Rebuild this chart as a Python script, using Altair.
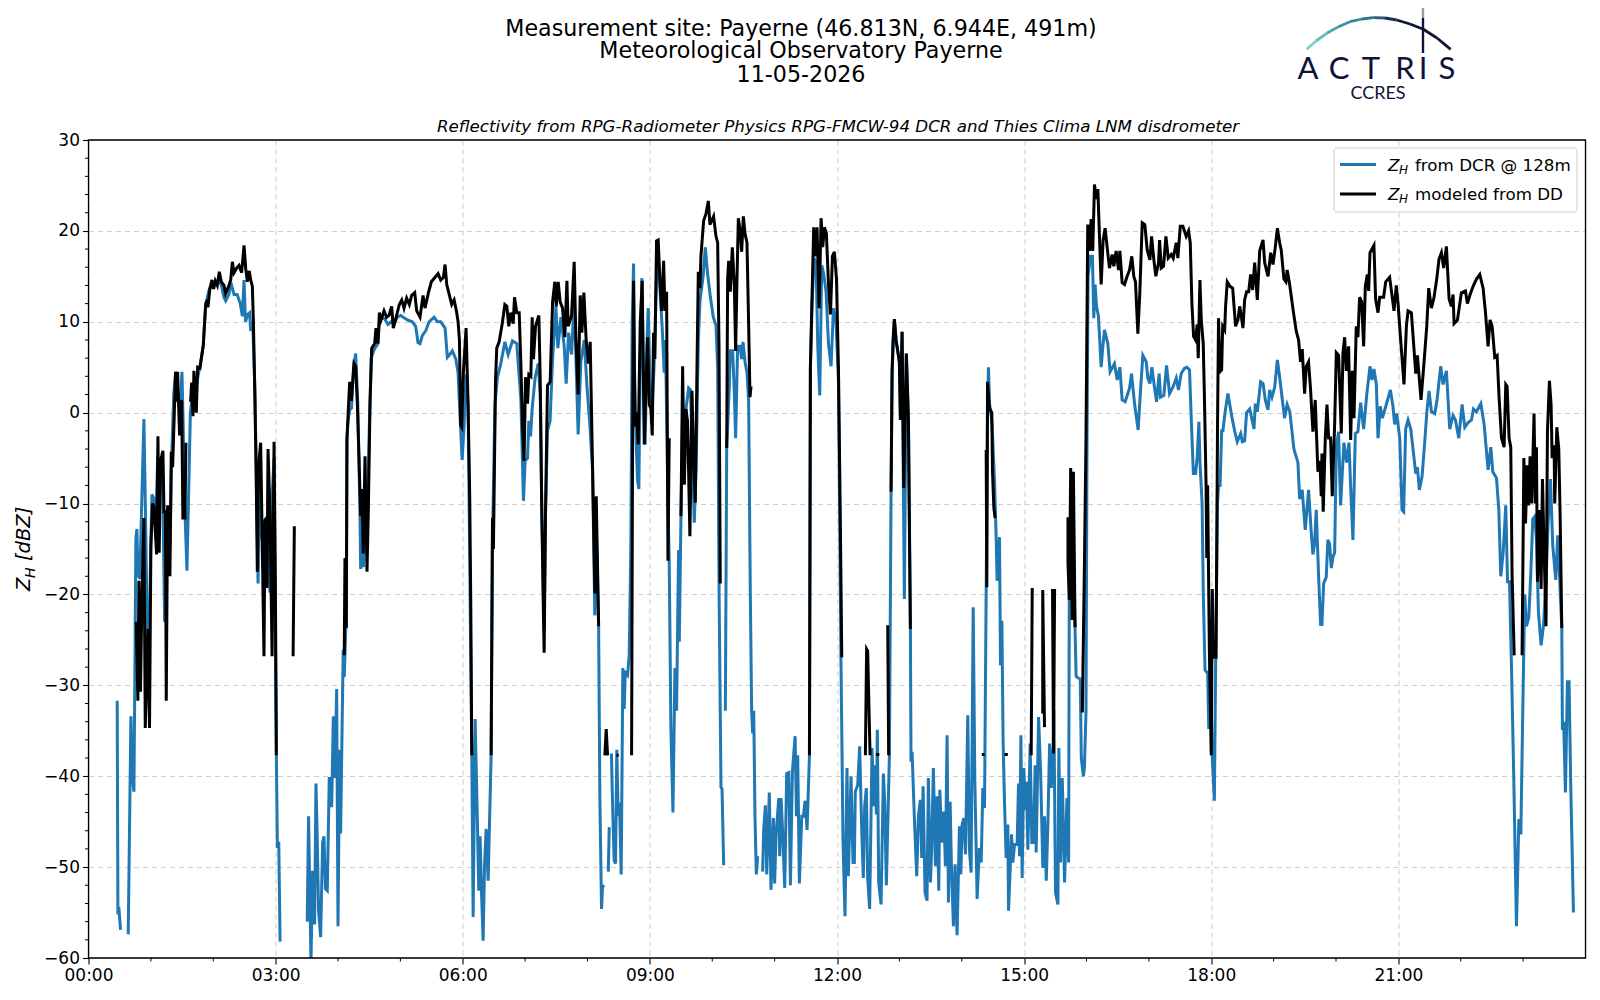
import altair as alt
import pandas as pd

# (minute of the day, reflectivity in dBZ); None marks a gap in the record
blue_points = [
(27.6,-31.7),(28.3,-55.2),(29.2,-54.4),(30.8,-56.9),(33,None),(38.2,-57.4),(40.8,-33.4),(42,-39.7),(43.7,-41.7),(45.6,-13.8),(46.6,-12.8),(47.5,-17.8),(49.4,-18.3),(51,-10.8),(53.3,-0.7),(54.9,-11.8),(56.5,-23.8),
(58.5,-24),(60,-14),(61,-9),(63,-9.5),(65,-12),(66.5,-5),(68,-10),(69,-7),(71,-5),(73.2,-23),(75,-12),(76.1,-11),(78.3,-15),(80,-5),(82,2),(83.8,4.5),(86,2),(88,0),(89.9,4.5),(91,-1),(92.5,-10),(94.7,-17.4),(96.5,-8),(98,0),(100,2),(103.7,3),(107,5),
(110.4,7.4),(112.7,11.9),(116,13.5),(118.8,14),(122,14.2),(125.8,14.5),(127.8,14),(130.3,12.7),(132,12.3),(135,13),(137,14.3),(140,13),(143,13),(146,12),(148,10.6),(149.6,14.6),(151,10),(153,10.8),(155,11),(156,9),(158,10),(160,2.7),(163.1,-18.8),
(165,-8),(167,-14),(169,-12),(172,-14),(174.6,-19.8),(176.6,-9.4),(178.5,-5),(180.7,-37.7),(181.7,-47.9),(183,-47.2),(184.3,-58.2),(190,None),
(210.4,-56),(211.7,-44.4),(214,-60.5),(215.6,-50.4),(217.5,-56.3),(218.8,-40.8),(220,-46.6),(221.3,-54.8),(223.3,-57.7),(225.2,-47.3),(226.5,-46.6),(228,-52.4),(229.7,-52.6),(231.6,-40.1),(233.9,-43.4),(235.5,-33.4),(237,-40.2),(238.7,-30.4),(240,-56.5),(241.6,-37.1),(242.5,-46.3),(245,-26.1),(246,-29.1),(248,-22),(248.6,-3),(249.6,-1),(251.2,0.3),(253,0.5),(255,5),(257,6.5),(259,1),(261,-10),(261.8,-17.2),(263,-13),(264.5,-17),(266,-8),(268,-14),(270,-2),(272,6),(275,7),(278,7.5),(280,10),(282,10.5),(285,10.3),(288,9.7),(291,10),(294,9.8),(297,10.5),
(300.3,10.7),(306.7,10.2),(311.5,10),(314.7,9.5),(317,7.7),(318.9,7.6),(321.2,8.5),(324.4,9),(327.6,10),(332.4,10.5),(335.6,10),(338.8,10),(343,9.3),(345.2,6.1),(347.5,6.4),(350,6.8),(353.3,5.9),(355.5,4.4),(357.4,-0.4),(359.4,-5.2),(361.3,-1.4),(363.2,4.2),(365.1,1),(368.7,-37.7),(370,-55.5),(371.9,-33.7),(374.1,-45.1),(375.4,-52.6),(376.7,-46.6),(378,-52.6),(379.6,-58.1),(380.9,-50),(382.5,-45.8),(384.4,-51.5),(387.3,-37.7),(388.6,-14),(391,1),(393.4,3.9),(396.6,5.4),(400.5,7.8),(403.7,6.4),(407.8,7.9),(412,7.6),(415.9,1.5),(418.4,-9.7),(420,-5.3),(422.3,-5),(423.6,-0.9),(425.2,-2.6),(426.8,0.5),(429.7,3.9),(432.6,5.4),(434.5,2),(436,-10.6),(438.3,-24),(439.6,-11.1),(441.5,-2),(444,-0.9),(446.4,5.9),(449.6,11.7),(451.5,7.1),(454.4,10.5),(457.6,7.3),(459.5,3.2),(461.8,8.8),(464.7,6.4),(467.2,12.7),(471,-2.4),(473.6,5.6),(476.9,8),(479.4,3),(482,-0.9),(484.9,-6.3),(487,-22.3),(489,-15),(490.7,-23.5),(491.9,-42.4),(493.5,-54.6),(494.4,-52.2),(496,-52),(498,None),(500,-50.5),(500.9,-45.6),(502,None),
(503,-37.5),(504.4,-44.4),(505.7,-49.3),(507,-49.6),(508.2,-37.1),(509.5,-44.4),(510.8,-42.9),(512.4,-50.8),(514,-28.1),(515.3,-32.6),(516.3,-28.6),(518.5,-28.9),(520.1,-26.7),(521.7,-14.8),(523,9.8),(524.3,16.4),(525.2,4.9),(526.9,-3.5),(528.1,-7.4),(529.4,-8.4),(530.7,4.9),(532.3,14.8),(533.6,4.9),(535.5,-3.5),(537.1,7.3),(538.4,11.5),(540.3,2.4),(541.9,0),(544,5),(546.4,15),(548,17),(550,13),(552,9),(553.8,4.4),(555,8),(557.4,-10),(558.6,-16.3),(560.2,-34.5),(562.2,-44),(564.1,-28.1),(565.7,-32.8),(567.6,-15.1),(568.3,-25.2),(569.9,-11.4),(571.5,0),(573.1,-7.9),(574.7,0.4),(577.3,2.7),(579,2.5),(580.5,-3),(582.7,-12.1),(584.5,-6),(586.6,8),(588.2,12.3),(591.4,15.2),(593.3,18.2),(595.6,15.2),(598.1,12.8),(601,10.5),(603.6,9.6),(605.2,4.9),(606.5,-18.8),(608.4,-41.2),(609.4,-41.4),(611,-49.8),(611.8,None),
(612.6,-32.8),(613.9,-4),(616.4,2.9),(617.4,6.8),(619.6,6.8),(621.2,2.4),(622.5,-2.8),(624.4,7.3),(626.7,7.3),(628.3,5.9),(629.6,7.8),(631.5,5.6),(633.4,4.4),(635,1.4),(636.6,-19.8),(637.9,-32.8),(638.9,-35.3),(639.9,-32.8),(641.1,-44.4),(642.4,-50.8),(643.7,-48.8),(646,None),
(648.5,-50.5),(649.5,-45.9),(651.1,-43.2),(652.4,-50.8),(654.9,-41.8),(656.5,-52.5),(658.8,-44.6),(660,-51.8),(661.4,-46.4),(664,-42.4),(664.9,-48.8),(666.2,-42.4),(667.8,-46.4),(669.7,-52.3),(671.6,-39.7),(673.6,-39.6),(675.2,-52),(677.1,-39.5),(679.7,-35.6),(681,-44.4),(682.2,-37.7),(683.8,-51.8),(686.1,-44.4),(687.7,-44.4),(689.3,-42.7),(691.2,-45.9),(693.5,-37.7),(694.4,4.9),(696,12),(698,17),(699.9,16.5),(701.5,7.3),(703.4,1.9),(705.3,16.2),(707.3,15.2),(709.5,13.3),(711.8,7.6),(714.3,5.1),(716.6,11.5),(719.1,9.8),(721.4,3.4),(723.8,-26.9),(725.8,-47.3),(727.7,-55.4),(729.6,-39.1),(730.9,-51),(733.5,-40),(735.4,-49.5),(736.7,-49.5),(737.6,-41.7),(739.9,-41),(741.8,-36.7),(743.7,-45.7),(745.3,-51.2),(746.6,-43.3),(748.2,-41.3),(749.5,-51.2),(751.4,-54.6),(753.7,-36.9),(755.3,-43.3),(756.6,-38.8),(757.9,-44.2),(758.8,-34.9),(760.1,-51.7),(762.4,-54.1),(764.6,-39.7),(765.9,-42.8),(767.5,-52),(770.4,-37.7),(772,-8.7),(773,4.5),(775.2,10.3),(776.8,8),(780,5.6),(781,-0.8),(782.6,8.9),(784.8,-20.5),(786.7,6.5),(788.7,-0.8),(790.6,-23.8),
(791.2,-38.4),(792.2,-37.3),(794.5,-44.8),(796.7,-51),(798.3,-44.4),(800.2,-42.6),(801.5,-49),(802.8,-41.1),(804.7,-52.8),(806.6,-53.7),(807.9,-40.2),(809.9,-51.7),(811.1,-48),(812.7,-39.1),(814.7,-49.9),(816.3,-42.2),(817.9,-52.6),(818.9,-41.5),(820.8,-47.3),(822.7,-43.9),(824.3,-49.9),(825.9,-35.5),(827.2,-53.9),(828.8,-42.8),(830.1,-49.9),(832,-56.5),(833.6,-49.7),(835.5,-57.5),(837.8,-45.5),(839.1,-50.8),(840.4,-45.3),(842,-44.6),(843.6,-48.6),(845.8,-33.3),(847.4,-48.1),(849,-50.6),(851,-21.4),(852.6,-40.6),(854.8,-53.5),(857,-47.9),(858.7,-49.5),(860.3,-41.3),(861.9,-43.5),(863.5,-19.4),(864.8,0),(865.7,5),(866.7,1),(869,-1),(871.5,-7.4),(873.1,-13.8),(874,-18.5),(876.3,-13.7),(877.3,-27.8),(878.6,-22.9),(879.8,-36.2),(881.1,-42.8),(882.7,-49),(884.3,-45.3),(885,-54.8),(887.9,-46.4),(889.1,-49.5),(890.8,-47.5),(893.3,-47.5),(894.6,-40.8),(895.6,-48.8),(896.9,-35.5),(898.1,-51.2),(899.7,-39.1),(901,-43.7),(902.3,-40.6),(903.6,-48.1),(905.8,-36.4),(907.4,-47.3),(909,-47.3),(910.6,-38.8),(911.6,-48.4),(913.9,-33.5),(915.8,-39.3),(918,-50.1),(919.6,-44.4),(921.3,-51.5),(922.9,-45),(924.5,-36.4),(926.1,-41.3),(928,-36.4),(928.6,-32.7),(930.2,-52.8),(932.5,-54.1),(933.4,-36.9),(935,-49.5),(936.7,-40.2),(938.9,-51.7),(941.2,-42.4),(942.8,-49.5),(943.5,-16.5),(945,-10),(947,-15),(949,-23.8),(950,-29),(952,-29.2),(954,-29.3),(955,-38),(957,-40),(958,-39),(959.5,-33),(960.5,-3),(961.5,15),(963.8,17.2),(965.7,17.2),(967,10.4),(968.3,14.1),(969.6,11.7),(971.5,10.6),(974.1,5),(975.5,7),(977.3,9.1),(980.5,7.6),(982.7,4.5),(986.9,5.4),(989.5,3.6),(992.1,5),(994.3,1.4),(997.2,1.2),(1001.4,2.7),(1003.3,4.3),(1006.2,1),(1009.7,-1.9),(1012,2.5),(1014.2,6.3),(1017.4,5.6),(1019,3.8),(1021,3.2),(1022.9,5),(1025.4,2.8),(1027.4,1.2),(1029.9,4.3),(1031.2,1.7),(1034.4,1.9),(1037,5.2),(1039.9,2.1),(1043.1,2.8),(1046.3,3.8),(1048.5,2.5),(1051.1,4.3),(1054.3,4.9),(1056.6,5),(1059.1,4.7),(1060.8,-0.8),(1062.8,-6.7),(1064.9,-6.7),(1066.5,-4.9),(1068.1,-1),(1069.2,-5.6),(1071.2,-10),(1072.4,-20.3),(1074,-28.3),(1076.6,-28.7),(1077.6,-34.8),(1079,-27),(1081,-38),(1083,-42.7),(1084.3,-26.9),(1086,-10),(1087,-8),(1088.5,-8),(1090,-2),(1091.2,-2),(1093.5,0.2),(1096,2.1),(1099.9,-0.5),(1102.5,-2),(1105,-3.2),(1108.3,-2.3),(1109.9,-3.2),(1112.1,-3.1),(1114,0),(1117,0.4),(1121.1,-1.8),(1122.4,1),(1124.3,0.1),(1127.5,3.4),(1129.8,3.2),(1132,1.4),(1134.6,0.3),(1136.2,2.5),(1138.4,1.7),(1141,2.8),(1143.6,5.8),(1145.8,3.9),(1148.1,1.7),(1150.5,-0.6),(1153,0.9),(1155.6,0.1),(1159.5,-4),(1163.4,-5.5),(1165,-9.5),(1167.5,-8.5),(1170.4,-12.9),(1173.6,-8.5),(1176.2,-13.2),(1177.8,-15.6),(1179.4,-14.4),(1181,-10.7),(1183.3,-18.1),(1185.2,-23.3),(1186.5,-23.3),(1188.1,-18.8),(1190.6,-18.1),(1192.2,-14),(1193.8,-14.4),(1195.5,-17.1),(1197,-15.9),(1198.7,-15.4),(1200.3,-3.8),(1202.5,-2.1),(1204.4,-10.2),(1207.6,-3.3),(1210.2,-5.5),(1212.5,-3.3),(1214.1,-8.2),(1216.3,-14),(1218.6,-2.3),(1221.1,-2.1),(1223.7,1.1),(1226.6,-1.8),(1229.5,1.9),(1232.7,5.1),(1234.6,3.6),(1236.5,4.8),(1238.8,3.1),(1240.4,-2.8),(1242.6,0.7),(1244.6,-0.6),(1248.4,0.9),(1252.3,2.5),(1254.8,0.7),(1256.4,-1.3),(1258.4,-0.1),(1261.3,-2.8),(1263.5,-10.7),(1265.1,-10.9),(1267,-1.8),(1269.3,-0.8),(1271.9,-1.8),(1274.1,-4),(1276.7,-6.7),(1278.3,-6),(1280.2,-8.5),(1282.8,-7),(1285.3,-3.3),(1287.6,0.4),(1289.5,2.4),(1291.8,0.1),(1295,-0.1),(1297.2,1.4),(1300.7,5.1),(1303,3.1),(1306.2,4.6),(1309.4,-1.8),(1312.6,-0.3),(1314.9,-0.8),(1318.1,-2.8),(1321.3,0.9),(1323.9,-1.6),(1327.1,-1.1),(1330.3,-0.8),(1332.2,0.4),(1335.1,0.1),(1339.3,1),(1342.5,-1.3),(1344.4,-3.8),(1346.3,-6.3),(1348.9,-3.8),(1350.8,-6.5),(1354.4,-7.2),(1356.6,-10.7),(1358.5,-18),(1360.8,-15.4),(1363.3,-10.2),(1365,-18.6),(1366.9,-18.6),(1368.8,-27.9),(1371,-40.2),(1373.6,-56.5),(1375.9,-44.7),(1377.8,-46.4),(1380,-30.4),(1381.6,-20),(1383.2,-23.5),(1385.5,-22.5),(1387.4,-17.6),(1389.3,-11.7),(1391.3,-11.4),(1392.9,-14.1),(1394.7,-21.9),(1397.3,-25.6),(1399.5,-23.5),(1402,-18.6),(1404.1,-12),(1406.3,-7.3),(1408.5,-14.6),(1411.4,-18.4),(1413.3,-13.5),(1415.6,-19.4),(1417.2,-23.7),(1417.8,-34.9),(1419,-34),(1420.7,-41.8),(1422.6,-29.6),(1424.2,-29.6),(1425.8,-41),(1428.4,-55),
]

black_points = [
(45.9,-23),(47.5,-31.7),(48.5,-18.5),(50,-30.7),(51.4,-20.3),(53.3,-11.6),(54.6,-34.7),(57.1,-23.8),(58.7,-34.7),(60,-14.8),(61.6,-10),(62.9,-10.3),(65.5,-15.6),(66.8,-2.6),(68,-15.4),(69.3,-5.3),(71.6,-4.2),(72.6,-10.9),(74,-10.9),(74.8,-31.7),(76.1,-10.2),(78.3,-18),(79.6,-4.3),(80.9,-6),(83.8,4.5),(84.4,1.2),(85.7,4.5),(87.6,-2.5),(89.6,1.4),(90.8,-11.6),(92.8,-11.6),(93.7,-3.3),(95,None),
(98.2,1.2),(99.2,3.3),(100.5,-0.4),(101.4,4.6),(103.7,0),(105,5),(107.2,4.9),(108.5,5.9),(110.4,7.4),(112.7,11.9),(114.3,12.4),(114.9,11.6),(116.8,13.7),(118.8,14.6),(120.4,13.6),(122,14.5),(123.9,14),(125.8,15.5),(127.8,14.4),(130.3,14),(131.9,13.1),(135.1,14),(136.8,14.6),(138.4,16.6),(140,15.4),(142.5,15.9),(144.8,16.2),(147.3,15.4),(149.6,18.4),(151.2,15.9),(152.8,14.4),(154.7,15.6),(156,14.6),(157.6,13.9),(158.6,10.1),(159.9,2.7),(161.2,-5.8),(162.4,-17.5),(163.5,-6),(165.6,-3.3),(167.2,-14.8),(168.8,-26.8),(169.8,-11.8),(171.1,-11.6),(171.7,-19.3),(172.7,-4),(174.6,-11),(176.6,-26.8),(178.5,-3.2),(179.8,-19.8),(180.7,-37.7),(190,None),
(196.8,-26.8),(198,-12.5),(205,None),
(246,-26.7),(246.7,-16),(248,-23.7),(248.6,-2.9),(249.6,-0.5),(251.2,3.4),(252.8,1.3),(255.4,5.4),(257,5.1),(258.6,1),(260,-4.3),(261.8,-11.4),(263,-8.4),(264.3,-15.5),(266,-4.8),(267.9,-17.5),(269.2,-10.6),(270.8,1),(272.4,7.1),(275.3,7.6),(276.5,9.3),(278.5,7.6),(279.8,11),(281.4,10.2),(284.3,11.2),(286.8,10.5),(289,10.7),(291.6,11.7),(293.2,9.3),(296.4,10.7),(299,11.9),(301.3,12.4),(303.5,11.5),(306,12.6),(308.6,11.9),(310.9,12.9),(313.8,13.2),(315.7,11.2),(318.9,10.5),(321.8,12.9),(323.7,11.5),(327,13.2),(329.8,14.4),(333.4,14.9),(336.3,15.3),(338.8,14.6),(341.4,14.9),(343,16.3),(344.6,14.1),(347.2,12.9),(349.4,11.9),(351.7,12.4),(353.9,11.2),(355.5,10),(356.8,8),(358,-1.4),(359,-1.6),(360.6,4.4),(363.2,9.3),(365.1,1),(366.7,-9.2),(367.7,-20.8),(368.7,-37.7),(375,None),
(387.3,-37.7),(388.6,-11.6),(389.5,-15),(391.5,3.4),(392.7,7.1),(395,7.8),(398,9.8),(400.5,11.9),(402.4,11.7),(404.3,9.5),(406.2,11),(408.5,9.8),(409.8,12.7),(412,11),(414.3,11),(415.9,5.4),(417.5,-1.4),(419,-5.3),(420.4,3.9),(422.3,1),(423.6,4.2),(425.5,4),(426.8,10.5),(428,5.9),(430,9.5),(433.2,10.7),(434.5,3.9),(436,-10.6),(437.4,-20.8),(438.3,-26.4),(439.6,-11.1),(441.5,3),(444.1,3.4),(446.4,12.2),(448.6,14.4),(449.9,11.7),(451.8,14.4),(453.7,12.2),(456,11.5),(458.2,8.3),(460.2,14.5),(461.4,9.5),(464.7,10.7),(467.2,16.6),(468.8,8.3),(471,2),(473,12.9),(474.6,8.8),(476.5,13.2),(478.8,7.8),(481,5.4),(482.6,7.8),(484.9,-6.3),(487.1,-19.9),(488.4,-9.2),(490.7,-23.5),(493,None),
(496.7,-37.7),(498,-34.8),(499.3,-37.7),(503,None),(507.8,-37.7),(510,-37.7),(515,None),
(522.4,-37.7),(523.3,-5),(524.3,14.5),(525.6,-1.5),(527.2,0),(528.8,-3.5),(530.7,9.8),(532.6,14.5),(534.6,-3.5),(536.2,2.4),(537.8,8.3),(539.4,0.9),(541,0.4),(542.3,-2.5),(543.5,8.8),(544.8,5.9),(546.4,18.9),(548,19),(549.6,14.7),(551.3,11.2),(553.2,16.7),(554.5,11.2),(556.1,13.3),(557.4,-16.3),(558.6,-2.8),(560,None),
(569.9,-11.4),(571.5,5.1),(573.1,-7.9),(574.7,0.4),(576.3,-1),(578.5,-13.6),(580.5,2.4),(582.1,-5),(583.7,-9.9),(585.3,4.9),(586.6,15.5),(588.2,13.7),(589.1,17.2),(591.7,21.1),(594,21.9),(596.2,23.3),(597.8,20.7),(599.4,21.1),(601.3,21.6),(603.6,19.4),(605.2,18.7),(606.5,7.3),(607.7,-18.8),(610,None),
(613.9,-3.9),(614.8,14.7),(615.8,16.7),(617.4,13.3),(619.3,18.2),(621.2,14.2),(622.5,6.8),(623.8,14.7),(625.1,21.4),(626.7,20.1),(628.3,17.7),(629.9,21.6),(631.5,19.7),(633.4,18.7),(635,9.8),(636.3,1.7),(637.3,2.9),(645,None),
(693.5,-37.7),(694.4,4.9),(695.7,11.3),(697.6,20.4),(699.2,17.2),(700.8,20.4),(702.8,11.5),(704.7,21.4),(706.3,18.2),(707.9,20.4),(709.8,19.7),(711.8,14.2),(713.7,10.8),(715.6,17.2),(717.5,17.7),(719.5,14.7),(721.4,4.9),(723,-9.9),(724.6,-26.9),(730,None),
(747.3,-37.7),(748.5,-26),(749.5,-26.2),(751.8,-37.7),(754,None),(757.5,-37.6),(760.7,-37.6),(764,None),(768.8,-23.4),(769.7,-37.7),(770.8,None),
(772,-8.7),(773,4.5),(773.9,8),(775.2,10.3),(776.8,8),(780,5.6),(781,-0.8),(782.6,8.9),(784.2,-8.3),(785.5,-0.8),(786.7,6.5),(788.7,-0.8),(790.6,-23.8),(795,None),
(859.3,-37.6),(861.9,-37.6),(863,None),(864.1,-19.2),(863.5,-4.1),(864.8,3.4),(866.7,0.5),(868.9,0),(869.6,-6.5),(870.9,-10.5),(872.1,-11.6),(876,None),
(881.2,-37.6),(884.3,-37.6),(890,None),(906.8,-37.7),(907.8,-19.3),(912,None),(917.9,-33.1),(917.9,-19.5),(919.6,-34.6),(922,None),(927.3,-19.4),(928.3,-37.5),(929.3,-19.4),(935,None),
(942.2,-11.5),(942.2,-16.6),(943.5,-20.6),(944.8,-6.1),(946.1,-22.8),(947.4,-6.5),(949,-23.6),(952,None),
(956,-33),(957.9,-17.7),(959.5,-3),(961.2,20.7),(962.8,17.8),(964.5,21.3),(966,17.8),(967.7,25.1),(969.3,23.5),(970.9,24.6),(972.5,19.4),(974.1,14.1),(976,19),(977.9,20.3),(979.2,18.9),(982.1,15.9),(984.7,17.4),(986.3,16.1),(988.5,17.8),(990.8,15.7),(992.1,17.8),(994.3,14.3),(996.6,14.1),(999.1,15),(1001.4,15.7),(1003.6,17.2),(1005.5,15),(1007.1,14.4),(1009.4,8.7),(1011.3,13.2),(1013.6,20.9),(1016.1,20.7),(1018.4,17.9),(1021,16.8),(1022.6,19.4),(1024.8,16.8),(1026.7,15),(1029.3,16.5),(1030.3,19),(1031.9,15.9),(1034.1,16.1),(1036.4,19.4),(1038.6,17),(1041.5,17.4),(1043.4,17),(1046.3,18.7),(1047.9,17),(1050.2,20.5),(1052.7,20.5),(1055.9,19.4),(1058.2,20),(1059.8,18.7),(1061.4,12),(1063,8.4),(1064.9,8),(1066.5,9.7),(1067.5,6),(1069.1,14.6),(1070.4,10.2),(1072.3,7.6),(1073.4,1.9),(1075,-7.8),(1075.7,-16),(1076.5,-8),(1078.2,-26.3),(1080,-37.7),(1081,-19.4),(1082,-26.9),(1084.6,-26.9),(1086,-1.9),(1087,10.4),(1088.4,4.5),(1090,4.7),(1091,9.5),(1092.9,9.1),(1093.8,11.7),(1095.4,14.4),(1098,13.9),(1100.6,13.7),(1103.4,9.5),(1105.7,10.2),(1107.3,11.7),(1108.9,10.6),(1110.5,9.3),(1112.1,12.4),(1114,13.3),(1116,13.3),(1117.9,15.2),(1119.8,13.5),(1121.8,16.5),(1124.3,12.4),(1126.6,17.8),(1129.8,19),(1131.4,16.5),(1134.6,15),(1137.2,17.6),(1139.4,16.3),(1141.7,18.3),(1143.6,20.3),(1145.8,18.7),(1147.3,17.9),(1149.9,14.7),(1151.8,14.4),(1153,15.7),(1155.3,14.2),(1158.5,11.5),(1161.7,9),(1164,8),(1165.9,5.6),(1167.5,7),(1169.8,2.1),(1171.4,5.1),(1173.6,5.6),(1175.5,2.6),(1177.8,-2.1),(1180,1.4),(1182.6,-6.5),(1184.5,-5.3),(1185.8,-9.2),(1186.5,-4.5),(1187.7,-10.9),(1189.7,-2.8),(1191.3,0.9),(1192.9,-2.8),(1194.8,-2.8),(1196.4,-9.2),(1198.7,-1.3),(1200.3,6.6),(1202.5,6.3),(1205.1,-2.3),(1206.7,6.6),(1208.3,8.3),(1209.9,4.6),(1212.1,7.3),(1214.1,-3),(1215.7,4.6),(1217.3,-0.6),(1219.5,9.5),(1221.1,8.3),(1222.7,12.7),(1224.7,12.2),(1226.6,7.3),(1228.2,13.9),(1230.1,15.2),(1231.4,13.4),(1232.7,17.6),(1236.5,18.4),(1238.1,12.5),(1240.4,11),(1242,12.7),(1245.8,12.7),(1247.8,14.4),(1251.6,14.9),(1255.8,11.2),(1258,14),(1259.7,12),(1262.2,8),(1265.4,3.1),(1267.7,9.5),(1269.3,11.2),(1272.5,11),(1274.7,7.5),(1276.7,4.3),(1278.3,6.3),(1281.8,1.4),(1284.7,5.6),(1287.3,9.5),(1289.2,13.7),(1291.8,11.5),(1294.3,12.7),(1296.9,14.7),(1299.1,16.9),(1301.4,17.6),(1303.6,15.9),(1306.2,18.3),(1308.8,12.5),(1311,11.7),(1312.6,13),(1313.6,9.8),(1316.8,10.2),(1320.6,13.2),(1324.5,13.4),(1326.4,12),(1329,13),(1331.9,13.9),(1335.1,14.7),(1338.3,15.2),(1341.5,13.7),(1343.8,11),(1346.3,7.3),(1348.2,10.2),(1350.2,9.5),(1352.7,6.1),(1355,6.3),(1356.9,1.6),(1359.2,-2.8),(1361.7,-3.8),(1363.3,3.1),(1364.6,2.9),(1366.5,-2.8),(1368.1,-3.8),(1369.4,-18),(1371.4,-26.7),(1375,None),
(1379,-26.7),(1380.7,-5),(1382.3,-12.2),(1383.9,-5.8),(1385.2,-10.2),(1386.7,-4.8),(1388.3,-10),(1390.5,-0.1),(1391.8,-10),(1392.8,-3.8),(1393.8,-18.6),(1395.7,-10.7),(1397.3,-19.4),(1398.6,-7.3),(1400.2,-15.2),(1402,-23.5),(1403.4,-2),(1405.3,3.5),(1406.9,0.9),(1407.9,-5),(1409.8,-3.6),(1410.4,-10),(1412.4,-1.6),(1414.3,-4),(1415.6,-11.3),(1417.2,-23.7),
]

blue_minutes = [p[0] for p in blue_points]
blue_dbz = [p[1] for p in blue_points]
black_minutes = [p[0] for p in black_points]
black_dbz = [p[1] for p in black_points]

title_lines = ["Measurement site: Payerne (46.813N, 6.944E, 491m)",
               "Meteorological Observatory Payerne", "11-05-2026"]
subtitle = "Reflectivity from RPG-Radiometer Physics RPG-FMCW-94 DCR and Thies Clima LNM disdrometer"
hour_ticks = [0, 180, 360, 540, 720, 900, 1080, 1260]
hour_minor = [60, 120, 240, 300, 420, 480, 600, 660, 780, 840, 960, 1020, 1140, 1200, 1320, 1380]
y_ticks = [30, 20, 10, 0, -10, -20, -30, -40, -50, -60]
y_minor = [v for v in range(-58, 30, 2) if v % 10]

W, H = 1497, 818
OX, OY = 88.5, 140          # page position of the plot's corner
FONT = "DejaVu Sans"
LW = 3
one = alt.Data(values=[{"a": 1}])


def px(x):
    return alt.value(x - OX)


def py(y):
    return alt.value(y - OY)


def label(text, x, y, size=16, color="black", align="left", style=None, font=FONT, angle=None, weight=None):
    kw = dict(text=text, fontSize=size, color=color, align=align, baseline="alphabetic", font=font)
    if style:
        kw["fontStyle"] = style
    if angle is not None:
        kw["angle"] = angle
    if weight:
        kw["fontWeight"] = weight
    return alt.Chart(one).mark_text(**kw).encode(x=px(x), y=py(y))


x_scale = alt.Scale(domain=[0, 1440], nice=False)
y_scale = alt.Scale(domain=[-60, 30], nice=False)
x_enc = alt.X("t:Q", scale=x_scale, title=None, axis=alt.Axis(
    values=hour_ticks, grid=True, gridDash=[5, 4], gridColor="#cfcfcf", gridWidth=1.1,
    domain=False, tickColor="black", tickSize=6, tickWidth=1.1, labelFont=FONT, labelFontSize=17,
    labelColor="black", labelPadding=3, labelFlush=False,
    labelExpr="(floor(datum.value/60)<10?'0':'')+floor(datum.value/60)+':00'"))
y_enc = alt.Y("v:Q", scale=y_scale, title=None, axis=alt.Axis(
    values=y_ticks, grid=True, gridDash=[5, 4], gridColor="#cfcfcf", gridWidth=1.1,
    domain=False, tickColor="black", tickSize=6, tickWidth=1.1, labelFont=FONT, labelFontSize=17,
    labelColor="black", labelPadding=3,
    labelExpr="replace(datum.label,'-','\u2212')"))

blue = alt.Chart(pd.DataFrame({"t": blue_minutes, "v": blue_dbz})).mark_line(
    color="#1f77b4", strokeWidth=LW, clip=True).encode(x=x_enc, y=y_enc)
black = alt.Chart(pd.DataFrame({"t": black_minutes, "v": black_dbz})).mark_line(
    color="black", strokeWidth=LW, clip=True).encode(x=alt.X("t:Q"), y=alt.Y("v:Q"))

minor_x = alt.Chart(pd.DataFrame({"t": hour_minor})).mark_rule(color="black", strokeWidth=1).encode(
    x=alt.X("t:Q"), y=alt.value(H), y2=alt.value(H + 3.5))
minor_y = alt.Chart(pd.DataFrame({"v": y_minor})).mark_rule(color="black", strokeWidth=1).encode(
    y=alt.Y("v:Q"), x=alt.value(-3.5), x2=alt.value(0))

# axes frame, on top of the data as in the reference
frame = alt.Chart(one).mark_rect(fillOpacity=0, fill="white", stroke="black", strokeWidth=1.3).encode(
    x=alt.value(0), x2=alt.value(W), y=alt.value(0), y2=alt.value(H))

layers = [blue, black, minor_x, minor_y, frame]

# legend
layers.append(alt.Chart(one).mark_rect(fill="white", fillOpacity=0.85, stroke="#d0d0d0", strokeWidth=1,
                                       cornerRadius=3).encode(x=px(1334), x2=px(1577), y=py(148), y2=py(212)))
for yy, colr, words in [(164.5, "#1f77b4", "from DCR @ 128m"), (194, "black", "modeled from DD")]:
    layers.append(alt.Chart(one).mark_rule(color=colr, strokeWidth=LW).encode(
        x=px(1340), x2=px(1376), y=py(yy)))
    layers.append(label("Z", 1388, yy + 6, size=16.7, style="italic"))
    layers.append(label("H", 1399, yy + 9, size=12, style="italic"))
    layers.append(label(words, 1415, yy + 6, size=16.7))

# y axis title, rotated
layers.append(label("Z", 30, 591, size=19.5, style="italic", angle=270))
layers.append(label("H", 34.5, 578, size=14, style="italic", angle=270))
layers.append(label("[dBZ]", 30, 561, size=19.5, style="italic", angle=270))

# figure title and axes title
for text, yy in zip(title_lines, [36, 58, 82]):
    layers.append(label(text, 801, yy, size=22.2, align="center"))
layers.append(label(subtitle, 838, 132, size=16.7, align="center", style="italic"))

# ACTRIS logo
arc_x = [1306.7, 1316, 1326.7, 1338, 1350, 1362, 1373.3, 1385, 1396.7, 1410, 1423.3, 1437, 1450.7]
arc_y = [49.3, 41, 33.3, 27, 21.7, 19, 17.7, 18, 20, 24, 29.3, 38, 49.3]
arc_c = ["#7fcfc9", "#62bdbb", "#4aa8ae", "#36969f", "#2f8a98", "#2f7788", "#2d5c73", "#1c2f52", "#10153a",
         "#10123a", "#10123a", "#10123a"]
for i, c in enumerate(arc_c):
    layers.append(alt.Chart(one).mark_rule(color=c, strokeWidth=2.8).encode(
        x=px(arc_x[i]), x2=px(arc_x[i + 1]), y=py(arc_y[i]), y2=py(arc_y[i + 1])))
layers.append(alt.Chart(one).mark_rule(color="#10123a", strokeWidth=2.4).encode(
    x=px(1423), x2=px(1423), y=py(18), y2=py(53)))
layers.append(alt.Chart(one).mark_rule(color="#9a9aae", strokeWidth=2.4).encode(
    x=px(1423), x2=px(1423), y=py(3), y2=py(18)))
for ch, xx in zip("ACTRIS", [1308, 1339, 1371, 1405, 1423, 1447]):
    layers.append(label(ch, xx, 79, size=31, color="#10123a", align="center", font="Lato"))
layers.append(label("CCRES", 1378, 99, size=18, color="#10123a", align="center", font="Lato"))

chart = alt.layer(*layers).properties(
    width=W, height=H,
    autosize=alt.AutoSizeParams(type="none"),
    padding={"left": OX - 8, "top": OY - 8, "right": 6, "bottom": 30},
).configure_view(stroke=None).configure(background="white")

chart.save("out.html", embed_options={"renderer": "svg", "actions": False})
